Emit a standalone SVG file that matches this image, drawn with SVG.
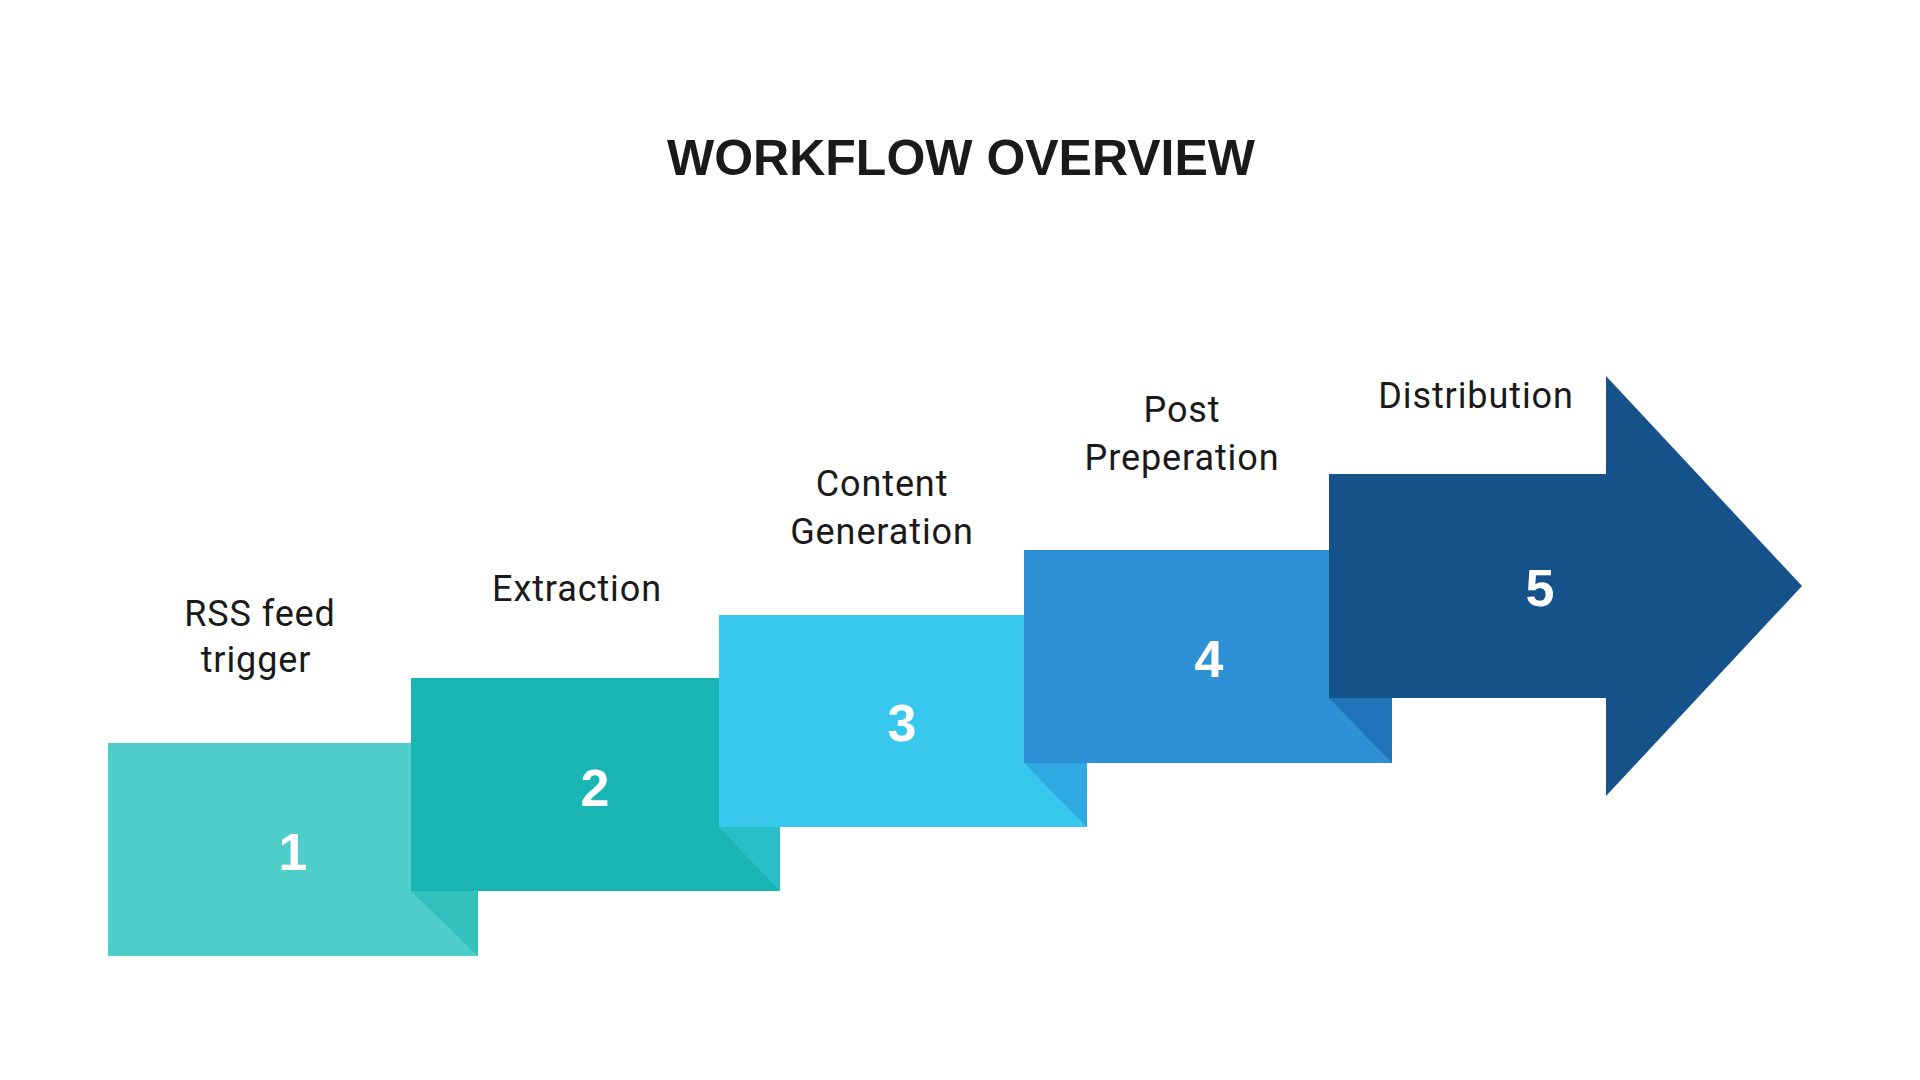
<svg xmlns="http://www.w3.org/2000/svg" width="1920" height="1080" viewBox="0 0 1920 1080">
  <style>
    .title { font-family: "Liberation Sans", Arial, sans-serif; font-weight: bold; font-size: 50px; fill: #1a1a1a; text-anchor: middle; }
    .label { font-family: Roboto, "Liberation Sans", sans-serif; font-size: 36px; letter-spacing: 0.9px; fill: #1a1a1a; text-anchor: middle; }
    .num { font-family: "Liberation Sans", Arial, sans-serif; font-weight: bold; font-size: 52px; fill: #ffffff; text-anchor: middle; }
  </style>
  <rect width="1920" height="1080" fill="#ffffff"/>
  <text class="title" x="961" y="175">WORKFLOW OVERVIEW</text>
  <g id="connectors"></g>
  <g id="step1">
    <rect x="108" y="743" width="370" height="213" fill="#4ECDCA"/>
    <polygon points="411,891 478,891 478,956" fill="#33C1BD"/>
    <text class="num" x="293" y="870">1</text>
    <text class="label" x="260" y="626">RSS feed</text>
    <text class="label" x="256" y="672">trigger</text>
  </g>
  <g id="step2">
    <rect x="411" y="678" width="369" height="213" fill="#19B5B5"/>
    <polygon points="719,827 780,827 780,891" fill="#28BFC9"/>
    <text class="num" x="595" y="806">2</text>
    <text class="label" x="577" y="601">Extraction</text>
  </g>
  <g id="step3">
    <rect x="719" y="615" width="368" height="212" fill="#38C8EE"/>
    <polygon points="1024,763 1087,763 1087,827" fill="#2FA9E1"/>
    <text class="num" x="902" y="741">3</text>
    <text class="label" x="882" y="496">Content</text>
    <text class="label" x="882" y="544">Generation</text>
  </g>
  <g id="step4">
    <rect x="1024" y="550" width="368" height="213" fill="#2E91D5"/>
    <polygon points="1329,698 1392,698 1392,763" fill="#2274BA"/>
    <text class="num" x="1209" y="677">4</text>
    <text class="label" x="1182" y="422">Post</text>
    <text class="label" x="1182" y="470">Preperation</text>
  </g>
  <g id="step5">
    <polygon points="1329,474 1606,474 1606,376 1802,586 1606,796 1606,698 1329,698" fill="#155289"/>
    <text class="num" x="1540" y="606">5</text>
    <text class="label" x="1476" y="408">Distribution</text>
  </g>
</svg>
